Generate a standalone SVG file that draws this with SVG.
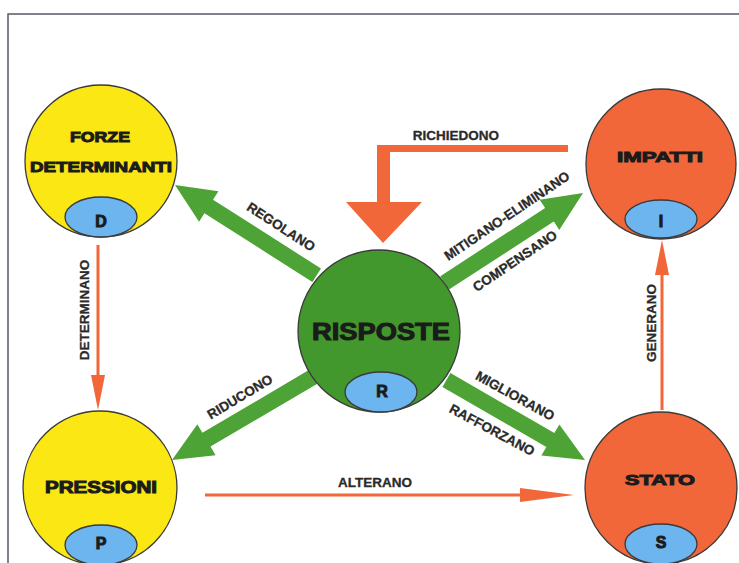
<svg xmlns="http://www.w3.org/2000/svg" width="739" height="563" viewBox="0 0 739 563">
<style>
.node{stroke:#3a3a3a;stroke-width:1.3}
.yel{fill:#FBE714}
.org{fill:#F2673A}
.grn{fill:#42982C}
.blu{fill:#6CB5EE;stroke:#3a3a3a;stroke-width:1.3}
.nl{font-family:"Liberation Sans",Arial,sans-serif;font-weight:bold;fill:#1b1b1b;stroke:#1b1b1b;stroke-width:1;text-anchor:middle}
.el{font-family:"Liberation Sans",Arial,sans-serif;font-weight:bold;font-size:13.5px;fill:#2a2a2a;stroke:#2a2a2a;stroke-width:0.3;text-anchor:middle;dominant-baseline:central}
.garrow{fill:#4DA335}
.rline{stroke:#F2673A;stroke-width:3;fill:none}
.rhead{fill:#F2673A}
</style>
<rect x="0" y="0" width="739" height="563" fill="#ffffff"/>
<rect x="8" y="14" width="745" height="560" fill="none" stroke="#555a66" stroke-width="1.5"/>

<g id="connectors">
  <path class="garrow" transform="translate(175,185) rotate(-147.5)" d="M0,0 L-40,-18 L-40,-8 L-168,-8 L-168,8 L-40,8 L-40,18 Z"/>
  <path class="garrow" transform="translate(583,193) rotate(-33)" d="M0,0 L-40,-18 L-40,-8 L-165,-8 L-165,8 L-40,8 L-40,18 Z"/>
  <path class="garrow" transform="translate(172,460) rotate(149.5)" d="M0,0 L-40,-18 L-40,-8 L-166,-8 L-166,8 L-40,8 L-40,18 Z"/>
  <path class="garrow" transform="translate(585,460) rotate(30)" d="M0,0 L-40,-18 L-40,-8 L-160,-8 L-160,8 L-40,8 L-40,18 Z"/>
  <polygon class="rhead" points="568,145 377,145 377,202 346,202 383,243 422,202 390,202 390,152 568,152"/>
  <line class="rline" x1="98" y1="245" x2="98" y2="378"/>
  <polygon class="rhead" points="91,375 105,375 98,410"/>
  <line class="rline" x1="662" y1="410" x2="662" y2="272"/>
  <polygon class="rhead" points="655,275 669,275 662,240"/>
  <line class="rline" x1="205" y1="495" x2="522" y2="495"/>
  <polygon class="rhead" points="520,488 520,502 574,495"/>
  <text class="el" x="456" y="135">RICHIEDONO</text>
  <text class="el" x="375" y="482">ALTERANO</text>
  <text class="el" transform="translate(84,310) rotate(-90)">DETERMINANO</text>
  <text class="el" transform="translate(651,323) rotate(-90)">GENERANO</text>
  <text class="el" transform="translate(281,227) rotate(33)">REGOLANO</text>
  <text class="el" transform="translate(507,216) rotate(-34)">MITIGANO-ELIMINANO</text>
  <text class="el" transform="translate(515,261) rotate(-34)">COMPENSANO</text>
  <text class="el" transform="translate(240,397) rotate(-31)">RIDUCONO</text>
  <text class="el" transform="translate(515,396) rotate(29)">MIGLIORANO</text>
  <text class="el" transform="translate(492,430) rotate(28)">RAFFORZANO</text>
</g>

<g id="forze">
  <circle class="node yel" cx="101" cy="161" r="76"/>
  <ellipse class="blu" cx="101" cy="217" rx="36" ry="20"/>
  <text class="nl" x="100" y="142" font-size="15" textLength="60" lengthAdjust="spacingAndGlyphs">FORZE</text>
  <text class="nl" x="101" y="172" font-size="15" textLength="142" lengthAdjust="spacingAndGlyphs">DETERMINANTI</text>
  <text class="nl" x="101" y="227" font-size="16">D</text>
</g>

<g id="impatti">
  <circle class="node org" cx="661" cy="164" r="75"/>
  <ellipse class="blu" cx="661" cy="219" rx="36" ry="19"/>
  <text class="nl" x="660" y="162" font-size="15" textLength="86" lengthAdjust="spacingAndGlyphs">IMPATTI</text>
  <text class="nl" x="661" y="227" font-size="16">I</text>
</g>

<g id="risposte">
  <circle class="node grn" cx="379" cy="331" r="81"/>
  <ellipse class="blu" cx="381" cy="392" rx="36" ry="20"/>
  <text class="nl" x="381" y="340" font-size="23" textLength="138" lengthAdjust="spacingAndGlyphs">RISPOSTE</text>
  <text class="nl" x="382" y="397" font-size="16">R</text>
</g>

<g id="pressioni">
  <circle class="node yel" cx="100" cy="488" r="77"/>
  <ellipse class="blu" cx="101" cy="545" rx="36" ry="20"/>
  <text class="nl" x="101" y="493" font-size="16" textLength="112" lengthAdjust="spacingAndGlyphs">PRESSIONI</text>
  <text class="nl" x="101" y="549" font-size="16">P</text>
</g>

<g id="stato">
  <circle class="node org" cx="661" cy="488" r="76"/>
  <ellipse class="blu" cx="661" cy="544" rx="36" ry="20"/>
  <text class="nl" x="660" y="485" font-size="15" textLength="70" lengthAdjust="spacingAndGlyphs">STATO</text>
  <text class="nl" x="661" y="548" font-size="16">S</text>
</g>
</svg>
